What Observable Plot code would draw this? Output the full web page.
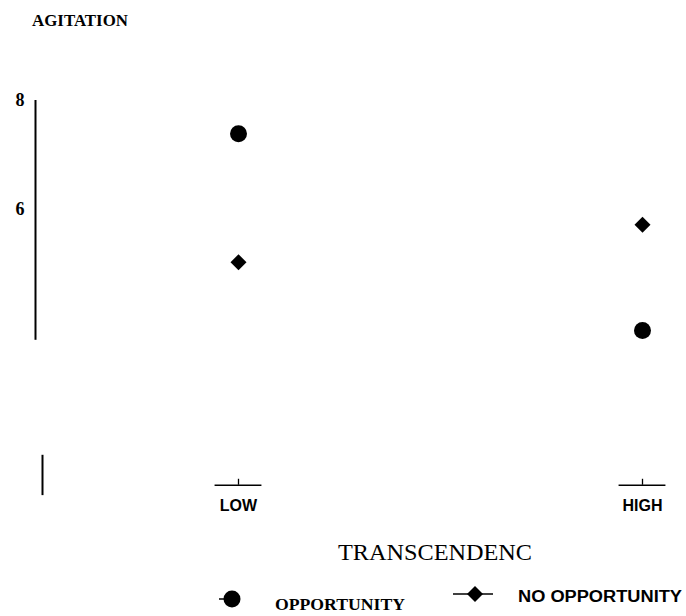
<!DOCTYPE html>
<html>
<head>
<meta charset="utf-8">
<script src="https://cdn.jsdelivr.net/npm/d3@7"></script>
<script src="https://cdn.jsdelivr.net/npm/@observablehq/plot@0.6"></script>
<style>
  html, body { margin: 0; padding: 0; background: #fff; }
  #wrap { position: relative; width: 686px; height: 616px; overflow: hidden; background: #fff; }
  #chart { position: absolute; left: 0; top: 0; }
  #overlay { position: absolute; left: 0; top: 0; }
</style>
</head>
<body>
<div id="wrap">
  <div id="chart"></div>
  <svg id="overlay" width="686" height="616" xmlns="http://www.w3.org/2000/svg">
    <text x="32" y="26" font-family="Liberation Serif" font-weight="bold" font-size="17" textLength="96" lengthAdjust="spacingAndGlyphs">AGITATION</text>
    <text x="338" y="560" font-family="Liberation Serif" font-size="24" textLength="194" lengthAdjust="spacingAndGlyphs">TRANSCENDENC</text>
    <g id="legend"></g>
  </svg>
</div>
<script>
// ---- data ----
const categories = ["LOW", "HIGH"];
const opportunity = [7.39, 3.78];
const noOpportunity = [5.03, 5.72];
const yTicks = [6, 8];
const seriesNames = ["OPPORTUNITY", "NO OPPORTUNITY"];

// ---- layout ----
const xRange = [238, 642];
const px = d3.scaleLinear().domain([0, 1]).range(xRange);
const axisLineX = px.invert(35);
const lowerAxisX = px.invert(42);
const tickBase = 0.94;

const idx = categories.map((c, i) => i);
const oppRows = categories.map((c, i) => ({cat: c, xi: i, value: opportunity[i]}));
const noRows = categories.map((c, i) => ({cat: c, xi: i, value: noOpportunity[i]}));

const chart = Plot.plot({
  width: 686,
  height: 530,
  marginLeft: 35,
  marginTop: 0,
  marginRight: 0,
  marginBottom: 0,
  x: {domain: [0, 1], range: xRange, axis: null},
  y: {domain: [0, 8], range: [536, 100], axis: null},
  style: {fontFamily: "Liberation Serif", color: "black", background: "white", overflow: "visible"},
  marks: [
    Plot.ruleX([axisLineX], {x: d => d, y1: 3.6, y2: 8, stroke: "black", strokeWidth: 2}),
    Plot.ruleX([lowerAxisX], {x: d => d, y1: 0.75, y2: 1.49, stroke: "black", strokeWidth: 2}),
    Plot.axisY(yTicks, {anchor: "left", label: null, tickFormat: d3.format("d"), tickSize: 0, tickPadding: 11, fontSize: 18, fontWeight: "bold", fontFamily: "Liberation Serif"}),
    Plot.ruleY(idx, {y: () => tickBase, x1: d => d - 0.058, x2: d => d + 0.058, stroke: "black", strokeWidth: 1.3}),
    Plot.ruleX(idx, {x: d => d, y1: tickBase, y2: tickBase + 0.11, stroke: "black", strokeWidth: 1.3}),
    Plot.text(categories, {x: (d, i) => i, y: () => tickBase, dy: 21, text: d => d, fontWeight: "bold", fontSize: 16, fontFamily: "Liberation Sans", fill: "black"}),
    Plot.dot(oppRows, {x: "xi", y: "value", r: 8.5, fill: "black", stroke: "none", symbol: "circle"}),
    Plot.dot(noRows, {x: "xi", y: "value", r: 7.2, fill: "black", stroke: "none", symbol: "diamond2"})
  ]
});
document.getElementById("chart").appendChild(chart);

// ---- legend ----
const ns = "http://www.w3.org/2000/svg";
const lg = document.getElementById("legend");
function el(tag, attrs, text) {
  const e = document.createElementNS(ns, tag);
  for (const k in attrs) e.setAttribute(k, attrs[k]);
  if (text) e.textContent = text;
  lg.appendChild(e);
  return e;
}
// opportunity
el("line", {x1: 219, x2: 232, y1: 599, y2: 599, stroke: "black", "stroke-width": 1.5});
el("circle", {cx: 232, cy: 599, r: 8.5, fill: "black"});
el("text", {x: 275, y: 610, "font-family": "Liberation Serif", "font-weight": "bold", "font-size": 17, textLength: 130, lengthAdjust: "spacingAndGlyphs"}, seriesNames[0]);
// no opportunity
el("line", {x1: 453, x2: 493, y1: 594, y2: 594, stroke: "black", "stroke-width": 1.5});
el("path", {d: "M475,586 L483,594 L475,602 L467,594 Z", fill: "black"});
el("text", {x: 518, y: 602, "font-family": "Liberation Sans", "font-weight": "bold", "font-size": 16, textLength: 164, lengthAdjust: "spacingAndGlyphs"}, seriesNames[1]);
</script>
</body>
</html>
